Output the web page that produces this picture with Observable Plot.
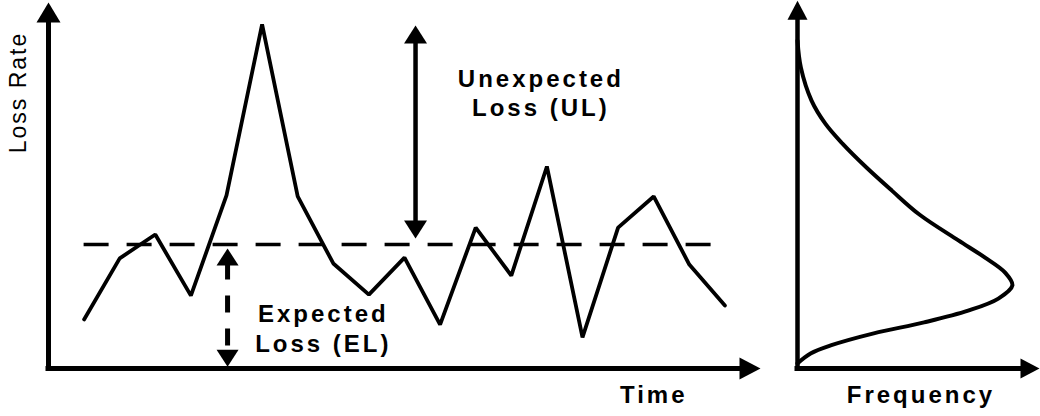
<!DOCTYPE html>
<html>
<head>
<meta charset="utf-8">
<script src="https://cdn.jsdelivr.net/npm/d3@7"></script>
<script src="https://cdn.jsdelivr.net/npm/@observablehq/plot@0.6"></script>
<style>
  html, body { margin: 0; padding: 0; background: #fff; }
  #chart { display: flex; width: 1040px; height: 416px; }
</style>
</head>
<body>
<div id="chart"></div>
<script>
// ---- data ----
const time = [1, 2, 3, 4, 5, 6, 7, 8, 9, 10, 11, 12, 13, 14, 15, 16, 17, 18, 19];
const lossRate = [13.4, 30.1, 36.6, 19.9, 47.3, 94.0, 47.0, 28.7, 20.2, 30.3, 12.0, 38.5, 25.4, 55.2, 8.5, 38.5, 47.0, 28.4, 17.2];
const expectedLoss = 33.9;
const elLineSpan = [1, 18.74];          // time span of the dashed EL line
const ulArrowTime = 10.31;              // time where the UL arrow stands
const ulArrowSpan = [35.5, 93.7];       // loss-rate span of the UL arrow
const elArrowTime = 5.03;               // time where the EL arrow stands
const elArrowSpan = [0.5, 32.8];        // loss-rate span of the EL arrow

// loss distribution (frequency along loss rate)
const densityLoss = [1.4, 4.1, 6.3, 9.6, 12.6, 15.8, 19.1, 22.7, 26.2, 30.3, 35.0, 42.0, 48.6, 54.9, 61.5, 66.9, 73.2, 82.2, 89.6];
const densityFreq = [0, 0.054, 0.137, 0.315, 0.523, 0.705, 0.830, 0.888, 0.858, 0.775, 0.665, 0.505, 0.390, 0.285, 0.185, 0.115, 0.058, 0.014, 0];

// text
const annotationText = ["Unexpected", "Loss (UL)", "Expected", "Loss (EL)"];
const annotationTime = [13.83, 13.83, 7.72, 7.72];
const annotationLoss = [77.0, 69.1, 12.6, 4.4];
const yTitle = "Loss Rate";
const xTitleLeft = "Time";
const xTitleRight = "Frequency";

// ---- tables ----
const series = time.map((t, i) => ({time: t, loss: lossRate[i]}));
const density = densityLoss.map((l, i) => ({loss: l, freq: densityFreq[i]}));
const annotations = annotationText.map((s, i) => ({text: s, time: annotationTime[i], loss: annotationLoss[i]}));

// arrow head symbols, tip at the origin
const head = (dir, w, h) => ({
  draw(ctx) {
    ctx.moveTo(0, 0);
    if (dir === "up") { ctx.lineTo(-w / 2, h); ctx.lineTo(w / 2, h); }
    else if (dir === "down") { ctx.lineTo(-w / 2, -h); ctx.lineTo(w / 2, -h); }
    else { ctx.lineTo(-h, -w / 2); ctx.lineTo(-h, w / 2); }
    ctx.closePath();
  }
});

const FONT = "'Liberation Sans', Arial, Helvetica, sans-serif";
const yScale = {domain: [0, 100], axis: null};

const left = Plot.plot({
  width: 775, height: 416,
  marginLeft: 48, marginRight: 15, marginTop: 2, marginBottom: 48,
  style: {fontFamily: FONT, background: "white", overflow: "visible"},
  x: {domain: [0, 20], axis: null},
  y: yScale,
  marks: [
    // axes
    Plot.ruleX([{t: 0, a: 0, b: 96.5}], {x: "t", y1: "a", y2: "b", stroke: "black", strokeWidth: 5, strokeLinecap: "square"}),
    Plot.ruleY([{l: 0, a: 0, b: 19.6}], {y: "l", x1: "a", x2: "b", stroke: "black", strokeWidth: 5, strokeLinecap: "square"}),
    Plot.dot([{t: 0, l: 100}], {x: "t", y: "l", symbol: head("up", 24, 20), fill: "black", stroke: "none"}),
    Plot.dot([{t: 20, l: 0}], {x: "t", y: "l", symbol: head("right", 22, 21), fill: "black", stroke: "none"}),
    // expected loss dashed line
    Plot.ruleY([expectedLoss], {x1: elLineSpan[0], x2: elLineSpan[1], stroke: "black", strokeWidth: 3.5, strokeDasharray: "25,18"}),
    // loss series
    Plot.line(series, {x: "time", y: "loss", stroke: "black", strokeWidth: 3.8, strokeLinejoin: "miter"}),
    // UL arrow
    Plot.ruleX([{t: ulArrowTime, a: ulArrowSpan[0] + 3, b: ulArrowSpan[1] - 3}], {x: "t", y1: "a", y2: "b", stroke: "black", strokeWidth: 4.5}),
    Plot.dot([{t: ulArrowTime, l: ulArrowSpan[1]}], {x: "t", y: "l", symbol: head("up", 23, 18), fill: "black", stroke: "none"}),
    Plot.dot([{t: ulArrowTime, l: ulArrowSpan[0]}], {x: "t", y: "l", symbol: head("down", 23, 18), fill: "black", stroke: "none"}),
    // EL arrow (dashed shaft)
    Plot.ruleX([{t: elArrowTime, a: elArrowSpan[0] + 4, b: elArrowSpan[1] - 4}], {x: "t", y1: "b", y2: "a", stroke: "black", strokeWidth: 5, strokeDasharray: "17,16"}),
    Plot.dot([{t: elArrowTime, l: elArrowSpan[1]}], {x: "t", y: "l", symbol: head("up", 22, 17), fill: "black", stroke: "none"}),
    Plot.dot([{t: elArrowTime, l: elArrowSpan[0]}], {x: "t", y: "l", symbol: head("down", 22, 17), fill: "black", stroke: "none"}),
    // annotations
    Plot.text(annotations, {x: "time", y: "loss", text: "text", lineAnchor: "bottom", textAnchor: "middle",
      fontSize: 24, fontWeight: "bold", fill: "black"}),
    Plot.text([{t: 17.0, l: -9.3, s: xTitleLeft}], {x: "t", y: "l", text: "s", lineAnchor: "bottom", textAnchor: "middle",
      fontSize: 24, fontWeight: "bold", fill: "black"}),
    Plot.text([{t: -0.84, l: 75.4, s: yTitle}], {x: "t", y: "l", text: "s", rotate: -90, lineAnchor: "middle", textAnchor: "middle",
      fontSize: 23, fill: "black"})
  ]
});

const right = Plot.plot({
  width: 265, height: 416,
  marginLeft: 22, marginRight: 1, marginTop: 2, marginBottom: 48,
  style: {fontFamily: FONT, background: "white", overflow: "visible"},
  x: {domain: [0, 1], axis: null},
  y: yScale,
  marks: [
    Plot.ruleX([{f: 0, a: 0, b: 96.5}], {x: "f", y1: "a", y2: "b", stroke: "black", strokeWidth: 4.5, strokeLinecap: "square"}),
    Plot.ruleY([{l: 0, a: 0, b: 0.94}], {y: "l", x1: "a", x2: "b", stroke: "black", strokeWidth: 5, strokeLinecap: "square"}),
    Plot.dot([{f: 0, l: 100.5}], {x: "f", y: "l", symbol: head("up", 20, 19), fill: "black", stroke: "none"}),
    Plot.dot([{f: 1, l: 0}], {x: "f", y: "l", symbol: head("right", 20, 19), fill: "black", stroke: "none"}),
    Plot.line(density, {x: "freq", y: "loss", curve: "catmull-rom", stroke: "black", strokeWidth: 4}),
    Plot.text([{f: 0.51, l: -9.3, s: xTitleRight}], {x: "f", y: "l", text: "s", lineAnchor: "bottom", textAnchor: "middle",
      fontSize: 24, fontWeight: "bold", fill: "black"})
  ]
});

const chart = document.getElementById("chart");
chart.appendChild(left);
chart.appendChild(right);

// letter spacing as in the reference
d3.selectAll("#chart svg text").each(function () {
  const t = this.textContent;
  this.style.letterSpacing = (t === yTitle) ? "2px" : "3px";
});
</script>
</body>
</html>
